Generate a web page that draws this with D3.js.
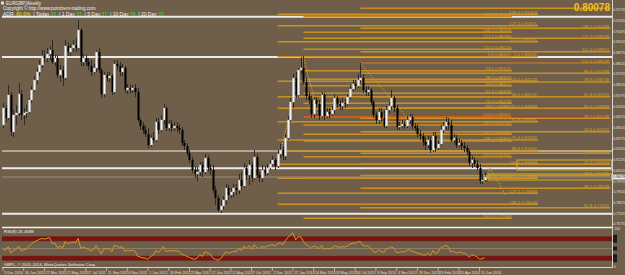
<!DOCTYPE html>
<html>
<head>
<meta charset="utf-8">
<script src="https://cdn.jsdelivr.net/npm/d3@7"></script>
<style>
  html, body { margin: 0; padding: 0; background: #6e5e4a; }
  svg { display: block; font-family: "Liberation Sans", Arial, sans-serif; }
  .narrow { font-family: "Liberation Sans Narrow", "Liberation Sans", Arial, sans-serif; }
</style>
</head>
<body>
<div id="chart"></div>
<script>
// EURGBP weekly, 5 Dec 2010 .. 29 Jun 2014 (one entry per week)
var opens = [
  0.8372,0.8491,0.8421,0.8582,0.8323,0.8442,0.8456,0.8589,0.8442,0.8456,
  0.8463,0.8547,0.8617,0.8687,0.8743,0.8792,0.8855,0.8841,0.8869,0.8897,
  0.8813,0.8841,0.8722,0.8757,0.8701,0.8925,0.8883,0.8911,0.8932,0.8911,
  0.9037,0.8813,0.8841,0.8813,0.8785,0.8743,0.8771,0.8883,0.8757,0.8589,
  0.8722,0.8701,0.8715,0.8603,0.8799,0.8785,0.8743,0.8771,0.8617,0.8631,
  0.8617,0.8631,0.8603,0.8407,0.8365,0.8337,0.8309,0.8232,0.8281,0.8267,
  0.8393,0.8337,0.8407,0.8491,0.8351,0.8379,0.8351,0.8365,0.8351,0.8337,
  0.8246,0.8225,0.8176,0.8127,0.8057,0.8029,0.8043,0.8092,0.8043,0.8141,
  0.8071,0.8057,0.7917,0.7861,0.7777,0.7805,0.7847,0.7931,0.7882,0.7903,
  0.7931,0.7917,0.7987,0.7945,0.8071,0.8022,0.8092,0.8001,0.8148,0.8022,
  0.8001,0.8057,0.8036,0.8071,0.8099,0.8127,0.8085,0.8169,0.8197,0.8155,
  0.8281,0.8407,0.8533,0.8701,0.8582,0.8757,0.8771,0.8673,0.8575,0.8547,
  0.8449,0.8547,0.8519,0.8435,0.8582,0.8435,0.8463,0.8449,0.8477,0.8561,
  0.8519,0.8505,0.8526,0.8519,0.8568,0.8624,0.8659,0.8645,0.8687,0.8701,
  0.8617,0.8603,0.8617,0.8533,0.8442,0.8407,0.8463,0.8421,0.8365,0.8477,
  0.8505,0.8561,0.8491,0.8358,0.8365,0.8379,0.8365,0.8407,0.8428,0.8365,
  0.8351,0.8309,0.8295,0.8253,0.8232,0.8267,0.8197,0.8295,0.8211,0.8239,
  0.8337,0.8365,0.8393,0.8372,0.8267,0.8281,0.8232,0.8246,0.8225,0.8211,
  0.8183,0.8106,0.8127,0.8099,0.8071,0.7980,0.7987
];
var highs = [
  0.8526,0.8512,0.8652,0.8603,0.8477,0.8512,0.8666,0.8617,0.8491,0.8512,
  0.8561,0.8645,0.8715,0.8771,0.8827,0.8897,0.8897,0.8911,0.8925,0.8967,
  0.8862,0.8862,0.8792,0.8785,0.8967,0.8953,0.8939,0.8967,0.8981,0.9107,
  0.9051,0.8869,0.8862,0.8841,0.8827,0.8799,0.8897,0.8911,0.8771,0.8743,
  0.8743,0.8743,0.8729,0.8827,0.8827,0.8813,0.8799,0.8785,0.8659,0.8652,
  0.8652,0.8659,0.8631,0.8421,0.8393,0.8372,0.8351,0.8302,0.8323,0.8421,
  0.8421,0.8442,0.8519,0.8505,0.8407,0.8407,0.8393,0.8393,0.8379,0.8358,
  0.8267,0.8246,0.8197,0.8148,0.8085,0.8078,0.8113,0.8113,0.8169,0.8162,
  0.8099,0.8092,0.7945,0.7882,0.7847,0.7875,0.7959,0.7952,0.7931,0.7959,
  0.7959,0.8029,0.8043,0.8106,0.8092,0.8127,0.8113,0.8197,0.8169,0.8043,
  0.8092,0.8085,0.8099,0.8127,0.8155,0.8141,0.8197,0.8239,0.8225,0.8309,
  0.8435,0.8561,0.8729,0.8743,0.8771,0.8848,0.8855,0.8701,0.8603,0.8575,
  0.8568,0.8568,0.8547,0.8603,0.8596,0.8491,0.8491,0.8505,0.8589,0.8575,
  0.8547,0.8561,0.8554,0.8589,0.8652,0.8687,0.8687,0.8729,0.8806,0.8729,
  0.8645,0.8645,0.8631,0.8547,0.8463,0.8491,0.8491,0.8477,0.8505,0.8533,
  0.8617,0.8575,0.8512,0.8393,0.8407,0.8400,0.8435,0.8449,0.8449,0.8386,
  0.8379,0.8337,0.8316,0.8281,0.8295,0.8295,0.8323,0.8323,0.8267,0.8372,
  0.8393,0.8428,0.8421,0.8407,0.8309,0.8302,0.8274,0.8267,0.8253,0.8232,
  0.8197,0.8155,0.8148,0.8127,0.8099,0.8029,0.8043
];
var lows = [
  0.8351,0.8393,0.8407,0.8295,0.8288,0.8372,0.8435,0.8407,0.8372,0.8421,
  0.8449,0.8526,0.8603,0.8659,0.8715,0.8771,0.8806,0.8813,0.8827,0.8799,
  0.8785,0.8701,0.8673,0.8645,0.8687,0.8855,0.8855,0.8883,0.8883,0.8897,
  0.8785,0.8785,0.8785,0.8757,0.8715,0.8729,0.8743,0.8736,0.8561,0.8568,
  0.8673,0.8673,0.8582,0.8589,0.8757,0.8715,0.8715,0.8596,0.8589,0.8596,
  0.8596,0.8568,0.8393,0.8337,0.8309,0.8288,0.8211,0.8218,0.8246,0.8253,
  0.8309,0.8323,0.8379,0.8330,0.8330,0.8323,0.8330,0.8323,0.8309,0.8225,
  0.8197,0.8155,0.8106,0.8036,0.8001,0.7980,0.8015,0.8008,0.8029,0.8043,
  0.8022,0.7896,0.7812,0.7763,0.7756,0.7777,0.7812,0.7847,0.7861,0.7868,
  0.7882,0.7889,0.7917,0.7931,0.7987,0.7952,0.7973,0.7987,0.8001,0.7973,
  0.7973,0.8015,0.8022,0.8057,0.8085,0.8057,0.8071,0.8141,0.8127,0.8127,
  0.8267,0.8393,0.8491,0.8561,0.8568,0.8729,0.8652,0.8547,0.8519,0.8421,
  0.8421,0.8491,0.8407,0.8421,0.8407,0.8421,0.8421,0.8435,0.8449,0.8491,
  0.8477,0.8477,0.8491,0.8505,0.8554,0.8610,0.8617,0.8631,0.8666,0.8596,
  0.8575,0.8575,0.8512,0.8421,0.8379,0.8379,0.8393,0.8351,0.8351,0.8456,
  0.8477,0.8463,0.8337,0.8337,0.8351,0.8344,0.8351,0.8379,0.8344,0.8330,
  0.8288,0.8267,0.8225,0.8197,0.8211,0.8176,0.8183,0.8183,0.8197,0.8225,
  0.8316,0.8337,0.8337,0.8253,0.8246,0.8211,0.8218,0.8197,0.8183,0.8162,
  0.8085,0.8071,0.8078,0.8057,0.7959,0.7959,0.7973
];
var closes = [
  0.8491,0.8421,0.8582,0.8323,0.8442,0.8456,0.8589,0.8442,0.8456,0.8463,
  0.8547,0.8617,0.8687,0.8743,0.8792,0.8855,0.8841,0.8869,0.8897,0.8813,
  0.8841,0.8722,0.8757,0.8701,0.8925,0.8883,0.8911,0.8932,0.8911,0.9037,
  0.8813,0.8841,0.8813,0.8785,0.8743,0.8771,0.8883,0.8757,0.8589,0.8722,
  0.8701,0.8715,0.8603,0.8799,0.8785,0.8743,0.8771,0.8617,0.8631,0.8617,
  0.8631,0.8603,0.8407,0.8365,0.8337,0.8309,0.8232,0.8281,0.8267,0.8393,
  0.8337,0.8407,0.8491,0.8351,0.8379,0.8351,0.8365,0.8351,0.8337,0.8246,
  0.8225,0.8176,0.8127,0.8057,0.8029,0.8043,0.8092,0.8043,0.8141,0.8071,
  0.8057,0.7917,0.7861,0.7777,0.7805,0.7847,0.7931,0.7882,0.7903,0.7931,
  0.7917,0.7987,0.7945,0.8071,0.8022,0.8092,0.8001,0.8148,0.8022,0.8001,
  0.8057,0.8036,0.8071,0.8099,0.8127,0.8085,0.8169,0.8197,0.8155,0.8281,
  0.8407,0.8533,0.8701,0.8582,0.8757,0.8771,0.8673,0.8575,0.8547,0.8449,
  0.8547,0.8519,0.8435,0.8582,0.8435,0.8463,0.8449,0.8477,0.8561,0.8519,
  0.8505,0.8526,0.8519,0.8568,0.8624,0.8659,0.8645,0.8687,0.8701,0.8617,
  0.8603,0.8617,0.8533,0.8442,0.8407,0.8463,0.8421,0.8365,0.8477,0.8505,
  0.8561,0.8491,0.8358,0.8365,0.8379,0.8365,0.8407,0.8428,0.8365,0.8351,
  0.8309,0.8295,0.8253,0.8232,0.8267,0.8197,0.8295,0.8211,0.8239,0.8337,
  0.8365,0.8393,0.8372,0.8267,0.8281,0.8232,0.8246,0.8225,0.8211,0.8183,
  0.8106,0.8127,0.8099,0.8071,0.7980,0.7987,0.80078
];
// RSI(8)
var rsi = [
  48,45,55,38,46,47,56,44,47,48,55,62,67,70,73,76,74,76,78,62,
  64,52,56,50,68,62,65,67,64,76,50,54,51,48,44,47,58,47,36,50,
  48,50,41,58,56,52,55,43,45,44,45,43,30,28,26,25,22,30,32,45,
  40,47,55,42,45,43,45,44,43,35,33,30,27,24,22,26,34,30,42,38,
  36,26,22,20,24,32,42,38,40,43,41,50,45,56,50,57,48,60,52,50,
  55,53,56,58,60,56,62,64,60,70,78,85,90,72,80,80,68,60,57,50,
  57,54,49,58,48,50,49,51,57,54,53,55,54,57,61,64,63,67,68,58,
  56,57,49,42,40,46,43,39,49,51,55,50,40,40,42,41,45,47,42,41,
  38,37,34,33,38,32,45,37,41,52,55,58,54,41,43,38,41,39,38,35,
  28,34,32,29,22,24,26.47
];

var dateLabels = ["5 Dec 2010","30 Jan 2011","27 Mar 2011","22 May 2011","17 Jul 2011","11 Sep 2011",
  "6 Nov 2011","1 Jan 2012","26 Feb 2012","22 Apr 2012","17 Jun 2012","12 Aug 2012","7 Oct 2012",
  "2 Dec 2012","27 Jan 2013","24 Mar 2013","19 May 2013","14 Jul 2013","8 Sep 2013","3 Nov 2013",
  "29 Dec 2013","23 Feb 2014","20 Apr 2014","15 Jun 2014"];
var priceTicks = [0.91770,0.91020,0.90270,0.89520,0.88770,0.88020,0.87270,0.86520,0.85770,0.85020,
  0.84270,0.83520,0.82770,0.82020,0.81270,0.80520,0.79770,0.79020,0.78270,0.77520,0.76770];
var rsiLevels = [80, 70, 50, 30, 20];
var bid = 0.80078;

// horizontal support / resistance lines
var srPrices = [0.91301, 0.88480, 0.81900, 0.80689, 0.77511];
var srKind   = ["white", "white", "grey", "white", "white"];

// fibonacci tools: start bar, end bar (ray end), levels and prices
var fibA = { start: 106, end: 206.6,
  levels: ["138.2","127.2","111.0","0.0","23.6","38.2","50.0","61.8","76.4","88.6","100.0","111.0","127.2","138.2"],
  prices: [0.91469,0.90671,0.89551,0.88501,0.86779,0.85701,0.84889,0.83951,0.82670,0.81900,0.80969,0.79989,0.78939,0.78169] };
var fibB = { start: 116, end: 196.5,
  levels: ["161.8","138.2","127.2","111.0","0.0","23.6","38.2","50.0","61.8","76.4","88.6","100.0","111.0","127.2","138.2","161.8","200.0","261.8"],
  prices: [0.91301,0.90209,0.89789,0.89019,0.88501,0.87521,0.86919,0.86471,0.85939,0.85239,0.84889,0.84301,0.83720,0.83069,0.82600,0.81501,0.79989,0.77189] };
var fibC = { start: 138, end: 234.5,
  levels: ["161.8","138.2","127.2","111.0","100.0","88.6","78.6","61.8","50.0","38.2","23.6","0.0","-11.0","-23.6","-38.2","-61.8"],
  prices: [0.91889,0.90489,0.89789,0.88851,0.88039,0.87339,0.86730,0.85701,0.84889,0.84189,0.83251,0.81739,0.80969,0.80185,0.79289,0.77931] };

// red dotted horizontal levels [start bar, price]
var redLevels = [[138, 0.88039], [116, 0.84301], [180, 0.81571]];
// dotted fib anchor lines (bar, price)
var trendLines = [
  [[106, 0.80969], [116, 0.88501]],
  [[116, 0.88501], [122, 0.84301]],
  [[138, 0.88039], [168, 0.81739]],
  [[186, 0.79680], [188, 0.80710], [194, 0.78820]]
];
// yellow boxes: bar from, bar to, price top, price bottom
var boxes = [[198.5, 235, 0.81269, 0.80570], [187.6, 235, 0.80290, 0.79870]];

// ================================
var svgWidth = 625, svgHeight = 275;
var plotLeft = 2, plotRight = 612, mainBottom = 227;

var svg = d3.select("#chart").append("svg")
  .attr("width", svgWidth)
  .attr("height", svgHeight);

svg.append("rect").attr("width", svgWidth).attr("height", svgHeight).attr("fill", "#6e5e4a");

var defs = svg.append("defs");
defs.append("clipPath").attr("id", "clipMain").append("rect")
  .attr("x", plotLeft).attr("y", 0).attr("width", plotRight - plotLeft).attr("height", mainBottom);
defs.append("clipPath").attr("id", "clipRsi").append("rect")
  .attr("x", plotLeft).attr("y", 228).attr("width", plotRight - plotLeft).attr("height", 39);

// scales
var x = d3.scaleLinear().domain([0, 186]).range([3, 484.7]);
var y = d3.scaleLinear().domain([0.7658, 0.9247]).range([mainBottom, 0]);
var rsiY = d3.scaleLinear().domain([0, 100]).range([268, 229]);

var main = svg.append("g").attr("clip-path", "url(#clipMain)");

// S/R lines
srPrices.forEach(function(p, i) {
  main.append("line")
    .attr("x1", plotLeft).attr("x2", plotRight)
    .attr("y1", y(p)).attr("y2", y(p))
    .attr("stroke", srKind[i] == "white" ? "#ecebe8" : "#b3a792")
    .attr("stroke-width", 2);
});

// fib lines
var fibColor = "#c98f22";
[fibA, fibB, fibC].forEach(function(f) {
  f.prices.forEach(function(p) {
    main.append("line")
      .attr("x1", x(f.start)).attr("x2", x(f.end))
      .attr("y1", y(p)).attr("y2", y(p))
      .attr("stroke", fibColor)
      .attr("stroke-width", 1.6);
  });
});

// bid line
main.append("line")
  .attr("x1", plotLeft).attr("x2", plotRight)
  .attr("y1", y(bid)).attr("y2", y(bid))
  .attr("stroke", "#9c9080").attr("stroke-width", 1);

// red dotted levels
redLevels.forEach(function(r) {
  main.append("line")
    .attr("x1", x(r[0])).attr("x2", plotRight)
    .attr("y1", y(r[1])).attr("y2", y(r[1]))
    .attr("stroke", "#e01010").attr("stroke-width", 1)
    .attr("stroke-dasharray", "1,1");
});

// yellow boxes
boxes.forEach(function(b) {
  main.append("rect")
    .attr("x", x(b[0])).attr("y", y(b[2]))
    .attr("width", x(b[1]) - x(b[0])).attr("height", y(b[3]) - y(b[2]))
    .attr("fill", "none").attr("stroke", "#d8b21c").attr("stroke-width", 1);
});

// dotted anchor lines
var tl = d3.line().x(function(d) { return x(d[0]); }).y(function(d) { return y(d[1]); });
trendLines.forEach(function(t) {
  main.append("path").attr("d", tl(t))
    .attr("fill", "none").attr("stroke", "#d6a12a")
    .attr("stroke-width", 1).attr("stroke-dasharray", "1.5,1.5");
});

// candles
var bars = d3.range(closes.length);
var candles = main.selectAll(".candle").data(bars).enter().append("g").attr("class", "candle");
candles.append("line")
  .attr("x1", function(i) { return Math.round(x(i)) + 0.5; })
  .attr("x2", function(i) { return Math.round(x(i)) + 0.5; })
  .attr("y1", function(i) { return y(highs[i]); })
  .attr("y2", function(i) { return y(lows[i]); })
  .attr("stroke", "#2e2a26").attr("stroke-width", 1);
candles.append("rect")
  .attr("x", function(i) { return Math.round(x(i)) - 0.5; })
  .attr("width", 2)
  .attr("y", function(i) { return y(Math.max(opens[i], closes[i])); })
  .attr("height", function(i) { return Math.max(1, Math.abs(y(opens[i]) - y(closes[i]))); })
  .attr("fill", function(i) { return closes[i] >= opens[i] ? "#f4f4f4" : "#000000"; })
  .attr("stroke", function(i) { return closes[i] >= opens[i] ? "#b9b9b9" : "none"; })
  .attr("stroke-width", 0.5);

// fib labels
var labelColor = "#d7a226";
[fibA, fibB, fibC].forEach(function(f, gi) {
  f.prices.forEach(function(p, k) {
    if (gi == 2 && k == 0) return;
    main.append("text")
      .attr("class", "narrow")
      .attr("x", x(f.end) - 1).attr("y", y(p) - 0.8)
      .attr("text-anchor", "end")
      .attr("font-size", "4.4px")
      .attr("fill", labelColor)
      .text(f.levels[k] + " " + p.toFixed(5));
  });
});

// header texts
svg.append("rect").attr("x", 1).attr("y", 1.5).attr("width", 3).attr("height", 3).attr("fill", "#e0e0e0");
svg.append("text").attr("class", "narrow").attr("x", 6).attr("y", 5).attr("font-size", "4.6px").attr("fill", "#f0f0f0").text("EURGBP,Weekly");
svg.append("text").attr("class", "narrow").attr("x", 3).attr("y", 9.8).attr("font-size", "4.6px").attr("fill", "#f0f0f0")
  .text("Copyright © http://www.pointzero-trading.com");

var adr = svg.append("text").attr("class", "narrow").attr("x", 3).attr("y", 15.5).attr("font-size", "5px").attr("fill", "#f0f0f0");
var adrParts = [["ADR: ", "#f0f0f0"], ["80.6%", "#e8e020"], ["  | Today ", "#f0f0f0"], ["26", "#3cdc3c"],
  ["  | 1 Day ", "#f0f0f0"], ["33", "#3cdc3c"], ["  | 5 Day ", "#f0f0f0"], ["37", "#3cdc3c"],
  ["  | 10 Day ", "#f0f0f0"], ["39", "#3cdc3c"], ["  | 20 Day ", "#f0f0f0"], ["33", "#3cdc3c"]];
adrParts.forEach(function(p) {
  adr.append("tspan").attr("fill", p[1]).style("white-space", "pre").text(p[0]);
});

svg.append("text").attr("x", 610).attr("y", 11)
  .attr("text-anchor", "end").attr("font-size", "10px").attr("font-weight", "bold")
  .attr("fill", "#f2c21a").text(bid.toFixed(5));

// separator between windows
svg.append("line").attr("x1", plotLeft).attr("x2", plotRight).attr("y1", 227.5).attr("y2", 227.5)
  .attr("stroke", "#f2f2f2").attr("stroke-width", 1.5);

// RSI window
var rsiG = svg.append("g").attr("clip-path", "url(#clipRsi)");
rsiG.append("rect").attr("x", plotLeft).attr("width", plotRight - plotLeft)
  .attr("y", rsiY(80)).attr("height", rsiY(70) - rsiY(80)).attr("fill", "#8e0a0a");
rsiG.append("rect").attr("x", plotLeft).attr("width", plotRight - plotLeft)
  .attr("y", rsiY(30)).attr("height", rsiY(20) - rsiY(30)).attr("fill", "#8e0a0a");
[80, 70, 30, 20].forEach(function(l) {
  rsiG.append("line").attr("x1", plotLeft).attr("x2", plotRight)
    .attr("y1", rsiY(l)).attr("y2", rsiY(l)).attr("stroke", "#4a1a10").attr("stroke-width", 0.6);
});
rsiG.append("line").attr("x1", plotLeft).attr("x2", plotRight)
  .attr("y1", rsiY(50)).attr("y2", rsiY(50)).attr("stroke", "#8a7e6c").attr("stroke-width", 1);

var rsiLine = d3.line().x(function(d, i) { return x(i); }).y(function(d) { return rsiY(d); });
rsiG.append("path").datum(rsi).attr("d", rsiLine)
  .attr("fill", "none").attr("stroke", "#d9952a").attr("stroke-width", 1);

svg.append("text").attr("class", "narrow").attr("x", 4).attr("y", 232.5).attr("font-size", "4.4px").attr("fill", "#f0f0f0")
  .text("RSI(8) 26.4689");
svg.append("text").attr("class", "narrow").attr("x", 4).attr("y", 266).attr("font-size", "4.2px").attr("fill", "#e8e8e8")
  .text("GBPL, © 2001-2014, MetaQuotes Software Corp.");

// window bottom
svg.append("line").attr("x1", plotLeft).attr("x2", plotRight).attr("y1", 267.5).attr("y2", 267.5)
  .attr("stroke", "#d8d4cc").attr("stroke-width", 1);

// right price axis
svg.append("line").attr("x1", 612.5).attr("x2", 612.5).attr("y1", 0).attr("y2", 268)
  .attr("stroke", "#d8d4cc").attr("stroke-width", 1);
priceTicks.forEach(function(t) {
  svg.append("line").attr("x1", 612).attr("x2", 613.5).attr("y1", y(t)).attr("y2", y(t))
    .attr("stroke", "#d8d4cc").attr("stroke-width", 0.7);
  svg.append("text").attr("class", "narrow").attr("x", 613.6).attr("y", y(t) + 1.2)
    .attr("font-size", "3.2px").attr("fill", "#e4e0d8").text(t.toFixed(5));
});
svg.append("rect").attr("x", 613).attr("y", y(bid) - 2.4).attr("width", 12).attr("height", 4.8).attr("fill", "#f4f4f4");
svg.append("text").attr("class", "narrow").attr("x", 613.6).attr("y", y(bid) + 1.2)
  .attr("font-size", "3.2px").attr("fill", "#000").text(bid.toFixed(5));

// RSI axis
svg.append("text").attr("class", "narrow").attr("x", 614).attr("y", rsiY(100) + 1.4).attr("font-size", "3.6px").attr("fill", "#e4e0d8").text("100");
rsiLevels.forEach(function(l) {
  svg.append("rect").attr("x", 613).attr("y", rsiY(l) - 2).attr("width", 4).attr("height", 4).attr("fill", "#1a1a1a");
});
svg.append("text").attr("class", "narrow").attr("x", 614).attr("y", 267.5).attr("font-size", "3.6px").attr("fill", "#e4e0d8").text("0");

// date axis
dateLabels.forEach(function(d, k) {
  var px = x(k * 8);
  svg.append("line").attr("x1", px).attr("x2", px).attr("y1", 268).attr("y2", 271)
    .attr("stroke", "#d8d4cc").attr("stroke-width", 0.7);
  svg.append("text").attr("class", "narrow").attr("x", px + 1.2).attr("y", 273.5)
    .attr("font-size", "3.7px").attr("fill", "#e4e0d8").text(d);
});
</script>
</body>
</html>
